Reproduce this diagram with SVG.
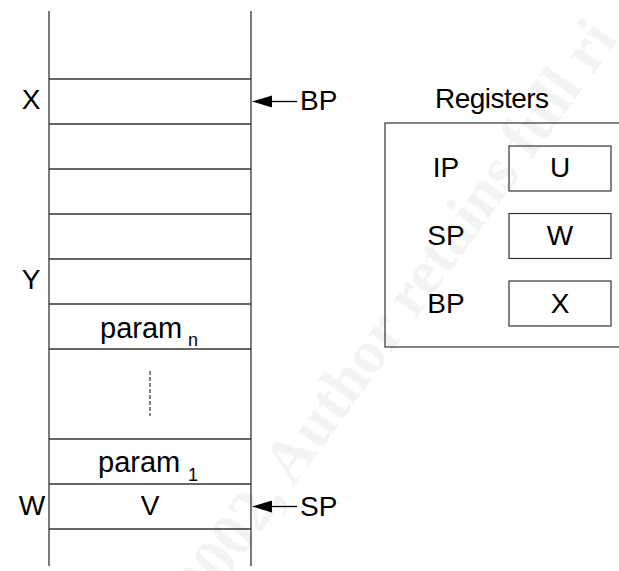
<svg xmlns="http://www.w3.org/2000/svg" width="619" height="571" viewBox="0 0 619 571">
<style>
text{font-family:"Liberation Sans",Arial,sans-serif;font-size:28px;fill:#000}
.m{text-anchor:middle}
.p{font-size:29px}
.sub{font-size:18px}
.ln{stroke:#333;stroke-width:1.3;fill:none}
.box{stroke:#333;stroke-width:1.2;fill:none}
.arr{stroke:#000;stroke-width:1.3}
.head{fill:#000}
.wm{font-family:"Liberation Serif","Times New Roman",serif;font-weight:bold;font-size:62px;fill:#f3f3f3}
</style>
<g id="watermark">
<text class="wm" transform="translate(204,610) rotate(-54)">2002, Author retains full ri</text>
</g>
<g id="stack">
<line class="ln" x1="49" y1="11" x2="49" y2="566"/>
<line class="ln" x1="251" y1="11" x2="251" y2="566"/>
<line class="ln" x1="49" y1="79" x2="251" y2="79"/>
<line class="ln" x1="49" y1="124" x2="251" y2="124"/>
<line class="ln" x1="49" y1="169" x2="251" y2="169"/>
<line class="ln" x1="49" y1="214" x2="251" y2="214"/>
<line class="ln" x1="49" y1="259" x2="251" y2="259"/>
<line class="ln" x1="49" y1="304" x2="251" y2="304"/>
<line class="ln" x1="49" y1="349" x2="251" y2="349"/>
<line class="ln" x1="49" y1="439" x2="251" y2="439"/>
<line class="ln" x1="49" y1="484" x2="251" y2="484"/>
<line class="ln" x1="49" y1="529" x2="251" y2="529"/>
<line x1="150" y1="371" x2="150" y2="416" stroke="#333" stroke-width="1.2" stroke-dasharray="4 2"/>
</g>
<g id="labels">
<text class="m" x="31" y="109">X</text>
<text class="m" x="31" y="289">Y</text>
<text class="m" x="32" y="515">W</text>
</g>
<g id="slot-paramn">
<text class="p" x="100" y="338">param<tspan class="sub" x="188" y="346">n</tspan></text>
</g>
<g id="slot-param1">
<text class="p" x="98" y="472">param<tspan class="sub" x="188" y="481">1</tspan></text>
</g>
<g id="slot-v">
<text class="m" x="150" y="515">V</text>
</g>
<g id="bp-pointer">
<text x="300" y="110">BP</text>
</g>
<g id="sp-pointer">
<text x="300" y="516">SP</text>
</g>
<g id="connectors">
<line class="arr" x1="268" y1="101.5" x2="297" y2="101.5"/>
<polygon class="head" points="252,101.5 272,95.5 272,107.5"/>
<line class="arr" x1="268" y1="506.5" x2="297" y2="506.5"/>
<polygon class="head" points="252,506.5 272,500.5 272,512.5"/>
</g>
<g id="registers">
<text x="435" y="108" font-size="25" textLength="114" lengthAdjust="spacing">Registers</text>
<rect class="box" x="385" y="123" width="245" height="224"/>
</g>
<g id="reg-ip">
<text class="m" x="446" y="177">IP</text>
<rect class="box" x="509" y="146" width="102" height="45"/>
<text class="m" x="560" y="177">U</text>
</g>
<g id="reg-sp">
<text class="m" x="446" y="245">SP</text>
<rect class="box" x="509" y="213.5" width="102" height="45"/>
<text class="m" x="560" y="245">W</text>
</g>
<g id="reg-bp">
<text class="m" x="446" y="313">BP</text>
<rect class="box" x="509" y="281" width="102" height="45"/>
<text class="m" x="560" y="313">X</text>
</g>
</svg>
